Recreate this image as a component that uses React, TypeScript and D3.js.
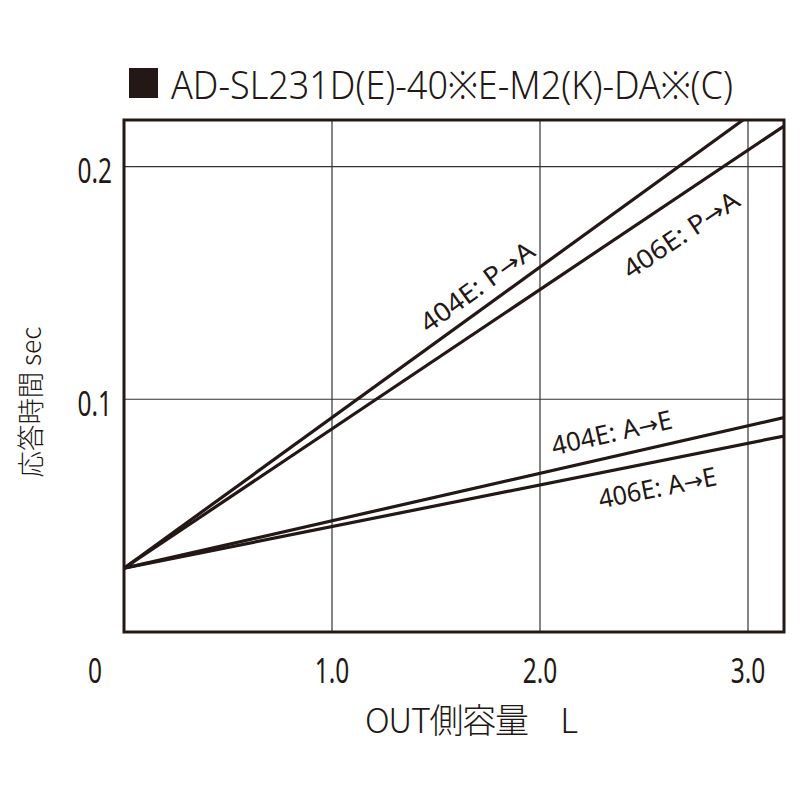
import React from "react";
import * as d3 from "d3";

const title = "AD-SL231D(E)-40※E-M2(K)-DA※(C)";
const xTicks = [0, 1, 2, 3];
const xTickLabels = ["0", "1.0", "2.0", "3.0"];
const yTicks = [0.1, 0.2];
const yTickLabels = ["0.1", "0.2"];

const seriesNames = ["404E: P→A", "406E: P→A", "404E: A→E", "406E: A→E"];
const s404PA: [number, number][] = [[0, 0.0274], [2.976, 0.22]];
const s406PA: [number, number][] = [[0, 0.0274], [3.173, 0.2174]];
const s404AE: [number, number][] = [[0, 0.0274], [3.173, 0.0921]];
const s406AE: [number, number][] = [[0, 0.0274], [3.173, 0.0842]];
const seriesData = [s404PA, s406PA, s404AE, s406AE];
// label layout: anchor (x value along line), perpendicular offset, text length
const labelAt = [1.757, 2.59, 2.37, 2.54];
const labelOffset = [-11.7, 42, -14.4, 35];
const labelLen = [134, 134, 123, 120];

const W = 800, H = 800;
const L = 124, R = 784, T = 120, B = 632;
const INK = "#231815";

export default function App() {
  const x = d3.scaleLinear().domain([0, 3]).range([L, L + 624]);
  const y = d3.scaleLinear().domain([0, 0.22]).range([B, T]);
  const line = d3.line<[number, number]>().x(d => x(d[0])).y(d => y(d[1]));
  const sans = "'Noto Sans', 'Open Sans', sans-serif";
  const jp = "'Noto Sans CJK JP', 'Noto Sans', sans-serif";

  return (
    <svg width={W} height={H} style={{ position: "absolute", left: 0, top: 0, background: "#fff" }}>
      <defs>
        <clipPath id="plot"><rect x={L} y={T} width={R - L} height={B - T} /></clipPath>
      </defs>
      <rect x={0} y={0} width={W} height={H} fill="#fff" />
      {/* title */}
      <rect x={129} y={68} width={29} height={30} fill={INK} />
      <text x={171} y={98.5} fontFamily={sans} fontWeight={300} fontSize={39} fill={INK} textLength={562} lengthAdjust="spacingAndGlyphs">{title}</text>
      {/* grid */}
      {xTicks.filter(t => t > 0).map(t => (
        <line key={"gx" + t} x1={x(t)} x2={x(t)} y1={T} y2={B} stroke="#333" strokeWidth={1.2} />
      ))}
      {yTicks.map(t => (
        <line key={"gy" + t} x1={L} x2={R} y1={y(t)} y2={y(t)} stroke="#333" strokeWidth={1.2} />
      ))}
      {/* series */}
      <g clipPath="url(#plot)">
        {seriesData.map((d, i) => (
          <path key={i} d={line(d) || ""} fill="none" stroke={INK} strokeWidth={3.2} />
        ))}
      </g>
      {/* labels */}
      {seriesData.map((d, i) => {
        const [p0, p1] = d;
        const ang = Math.atan2(y(p1[1]) - y(p0[1]), x(p1[0]) - x(p0[0]));
        const xv = labelAt[i];
        const yv = p0[1] + (p1[1] - p0[1]) * (xv - p0[0]) / (p1[0] - p0[0]);
        const px = x(xv), py = y(yv);
        const nx = -Math.sin(ang), ny = Math.cos(ang);
        const off = labelOffset[i];
        const [a, b] = seriesNames[i].split("→");
        return (
          <text key={"l" + i} transform={`translate(${px + nx * off},${py + ny * off}) rotate(${ang * 180 / Math.PI})`}
            textAnchor="middle" fontFamily={sans} fontSize={26} fill={INK}
            textLength={labelLen[i]} lengthAdjust="spacingAndGlyphs">
            {a}<tspan fontFamily="'DejaVu Sans', sans-serif" fontSize={24}>→</tspan>{b}
          </text>
        );
      })}
      {/* frame */}
      <rect x={L} y={T} width={R - L} height={B - T} fill="none" stroke={INK} strokeWidth={3} />
      {/* tick labels */}
      {xTicks.map((t, i) => (
        <text key={"tx" + t} transform={`translate(${x(t) + (t === 0 ? -29 : 0)},683) scale(0.7,1)`} textAnchor="middle" fontFamily={sans} fontSize={35} fill={INK}>{xTickLabels[i]}</text>
      ))}
      {yTicks.map((t, i) => (
        <text key={"ty" + t} transform={`translate(112,${y(t) + 16.5}) scale(0.7,1)`} textAnchor="end" fontFamily={sans} fontSize={35} fill={INK}>{yTickLabels[i]}</text>
      ))}
      {/* axis titles */}
      <text x={365} y={733} fontFamily={jp} fontWeight={300} fontSize={34} fill={INK}
        textLength={213} lengthAdjust="spacing">OUT側容量　L</text>
      <text transform={`translate(41,402) rotate(-90)`} textAnchor="middle" fontFamily={jp} fontWeight={300} fontSize={27} fill={INK}
        textLength={151} lengthAdjust="spacingAndGlyphs">応答時間 sec</text>
    </svg>
  );
}
